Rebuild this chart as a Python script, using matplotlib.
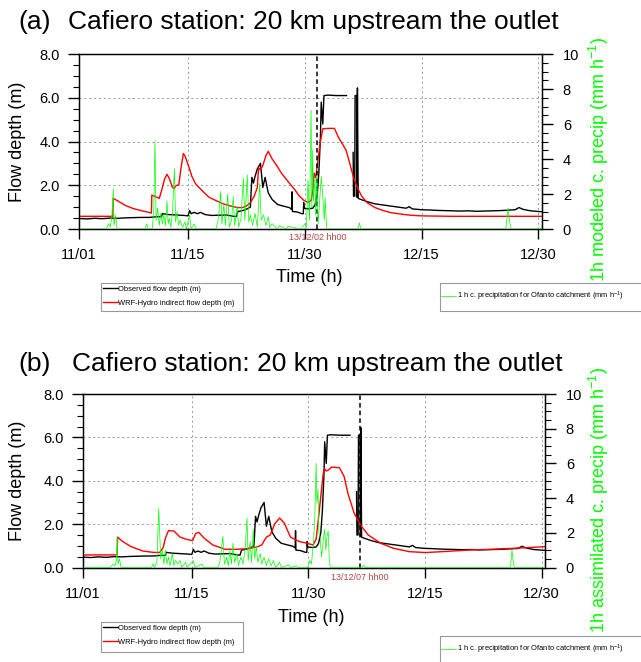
import numpy as np
import matplotlib
matplotlib.use("Agg")
import matplotlib.pyplot as plt
from matplotlib.ticker import MultipleLocator
from matplotlib.patches import Rectangle

plt.rcParams['font.family'] = ['Liberation Sans', 'DejaVu Sans']
plt.rcParams['mathtext.fontset'] = 'custom'
plt.rcParams['mathtext.rm'] = 'Liberation Sans'
plt.rcParams['mathtext.it'] = 'Liberation Sans'

# days since 11/01 (as positioned on the axis)
tick_days = [0, 14, 29, 44, 59]
tick_labels = ['11/01', '11/15', '11/30', '12/15', '12/30']

# observed flow depth (m), same in both panels; nan = missing data
obs_day = [0.0, 1.0, 2.0, 3.0, 4.0, 5.0, 6.0, 7.0, 8.0, 9.0, 10.0, 10.6, 10.7, 11.5, 12.5,
           13.5, 14.0, 14.2, 14.4, 14.8, 15.2, 15.6, 16.2, 17.0, 18.0, 19.0, 19.8, 20.2,
           20.4, 21.0, 21.6, 22.0, 22.2, 22.4, 22.6, 22.9, 23.3, 23.6, 23.9, 24.3, 24.8,
           25.5, 26.2, 27.0, 27.3, 27.35, 27.4, 28.0, 28.6, 28.8, 28.85, 28.9, 29.5, 30.0,
           30.3, 30.6, 30.8, 31.0, 31.1, 31.3, 31.45, 32.0, 33.0, 34.35, 34.4, 35.2, 35.25,
           35.4, 35.45, 35.65, 35.7, 35.75, 35.85, 36.2, 37.0, 38.0, 39.0, 40.0, 41.0, 42.0,
           42.4, 42.8, 44.0, 45.0, 46.0, 47.0, 48.0, 49.0, 50.0, 51.0, 52.0, 53.0, 54.0,
           55.0, 56.0, 56.5, 57.0, 58.0, 59.0, 59.5]
obs_depth = [0.48, 0.46, 0.49, 0.47, 0.50, 0.49, 0.51, 0.52, 0.53, 0.53, 0.56, 0.56, 0.70,
             0.66, 0.64, 0.62, 0.60, 0.84, 0.70, 0.76, 0.70, 0.76, 0.66, 0.62, 0.63, 0.64,
             0.58, 0.57, 0.80, 0.84, 0.92, 1.00, 2.36, 2.10, 2.40, 2.75, 3.00, 1.90, 2.36,
             1.65, 1.35, 1.12, 1.05, 0.98, 0.90, 1.70, 0.80, 0.78, 0.70, 0.70, 1.20, 0.95,
             0.92, 0.95, 1.10, 1.60, 2.60, 4.20, 5.80, 4.80, 6.10, 6.12, 6.10, 6.10, np.nan,
             3.50, 1.50, 1.50, 6.10, 6.10, 1.45, 6.45, 1.40, 1.35, 1.25, 1.15, 1.10, 1.05,
             1.00, 0.95, 1.02, 0.92, 0.88, 0.87, 0.85, 0.84, 0.83, 0.82, 0.83, 0.81, 0.82,
             0.83, 0.84, 0.86, 0.88, 0.98, 0.90, 0.83, 0.80, 0.79]

# WRF-Hydro indirect flow depth (m), panel (a)
mod_a_day = [0.0, 4.35, 4.4, 5.0, 6.0, 7.0, 8.0, 9.3, 9.35, 10.0, 10.3, 10.6, 11.0, 11.3, 11.6,
             12.0, 12.2, 12.5, 12.8, 13.1, 13.4, 13.6, 14.0, 14.5, 15.0, 15.9, 16.7, 17.7,
             18.5, 19.5, 20.3, 21.0, 21.5, 22.0, 22.5, 22.9, 23.05, 23.3, 23.6, 24.0, 24.3,
             24.8, 25.3, 26.0, 27.0, 27.7, 28.3, 28.9, 29.4, 29.8, 30.0, 30.2, 30.4, 30.7,
             31.0, 31.3, 32.0, 32.8, 33.3, 33.8, 34.3, 34.8, 35.3, 35.8, 36.3, 37.0, 38.0,
             39.0, 40.0, 41.0, 42.0, 43.0, 44.0, 46.0, 48.0, 59.5]
mod_a_depth = [0.58, 0.58, 1.40, 1.28, 1.07, 0.93, 0.84, 0.73, 1.55, 1.45, 1.40, 1.75, 2.30,
               2.50, 2.30, 1.90, 1.85, 2.00, 2.00, 2.80, 3.45, 3.35, 2.95, 2.40, 2.05, 1.72,
               1.45, 1.28, 1.15, 1.05, 0.98, 0.98, 1.05, 1.20, 1.50, 1.90, 2.80, 2.70, 2.90,
               3.35, 3.55, 3.20, 2.95, 2.55, 2.10, 1.80, 1.50, 1.30, 1.22, 1.30, 1.70, 2.55,
               2.35, 3.20, 4.00, 4.58, 4.60, 4.60, 4.20, 3.90, 3.60, 2.95, 2.30, 1.85, 1.50,
               1.20, 0.98, 0.85, 0.75, 0.70, 0.65, 0.62, 0.60, 0.59, 0.58, 0.58]

# WRF-Hydro indirect flow depth (m), panel (b)
mod_b_day = [0.0, 4.4, 4.45, 5.1, 6.2, 7.7, 9.0, 9.85, 10.3, 10.6, 11.0, 11.7, 12.5, 13.3,
             14.1, 14.5, 14.9, 15.6, 16.7, 18.3, 19.9, 21.4, 22.4, 23.0, 23.6, 24.1, 24.7,
             25.3, 25.9, 26.7, 27.8, 28.8, 29.6, 30.0, 30.4, 30.9, 31.1, 31.3, 31.6, 32.0,
             33.0, 33.6, 34.1, 34.9, 35.7, 36.7, 38.3, 39.9, 42.0, 44.1, 46.2, 49.9, 52.5,
             55.7, 59.5]
mod_b_depth = [0.58, 0.58, 1.40, 1.20, 0.96, 0.76, 0.70, 0.69, 0.90, 1.35, 1.70, 1.68, 1.40,
               1.30, 1.24, 1.57, 1.62, 1.35, 1.04, 0.84, 0.84, 0.88, 0.95, 1.04, 1.40, 1.50,
               2.03, 2.28, 2.05, 1.40, 1.20, 1.12, 1.04, 1.30, 2.60, 4.30, 4.55, 4.45, 4.50,
               4.63, 4.60, 4.20, 3.40, 2.50, 1.96, 1.50, 1.12, 0.89, 0.73, 0.69, 0.73, 0.81,
               0.84, 0.89, 0.96]

# 1h catchment precipitation (mm h-1), panel (a): modeled
pr_a_day = [0.0, 3.5, 3.8, 4.0, 4.2, 4.4, 4.5, 4.7, 4.9, 8.5, 8.7, 8.9, 9.4, 9.6, 9.75, 9.9,
            10.1, 10.3, 10.5, 10.7, 10.9, 11.1, 11.3, 11.45, 11.6, 11.8, 12.0, 12.25, 12.4,
            12.6, 12.8, 13.0, 13.3, 13.6, 13.8, 14.2, 14.4, 14.8, 15.0, 17.6, 17.9, 18.2,
            18.35, 18.6, 18.8, 19.1, 19.3, 19.6, 19.8, 20.0, 20.3, 20.5, 20.8, 21.1, 21.3,
            21.6, 21.8, 22.0, 22.3, 22.6, 22.9, 23.2, 23.4, 23.7, 24.0, 24.3, 24.5, 24.8,
            25.5, 25.7, 26.6, 26.8, 28.5, 29.0, 29.2, 29.4, 29.6, 29.8, 29.9, 30.0, 30.1,
            30.3, 30.4, 30.55, 30.7, 30.9, 31.1, 31.3, 31.5, 31.6, 31.8, 35.8, 36.0, 36.2,
            54.8, 55.1, 55.3, 55.5, 59.3, 59.5]
pr_a_val = [0.0, 0.0, 0.3, 0.1, 0.6, 2.3, 0.2, 0.8, 0.0, 0.0, 0.3, 0.0, 0.0, 1.0, 5.05, 0.5,
            1.2, 0.2, 0.9, 0.3, 0.8, 0.2, 1.6, 0.3, 0.6, 0.1, 0.9, 3.45, 0.4, 1.0, 0.2, 0.5,
            0.1, 0.4, 0.0, 0.8, 0.0, 0.3, 0.0, 0.0, 0.6, 2.15, 0.3, 1.4, 0.2, 2.0, 0.1, 0.5,
            1.85, 0.2, 1.3, 0.1, 0.6, 2.9, 0.5, 3.1, 0.4, 0.8, 0.2, 0.9, 0.1, 2.6, 0.5, 0.8,
            0.2, 0.7, 0.1, 0.3, 0.0, 0.2, 0.0, 0.15, 0.0, 0.3, 0.1, 2.8, 0.5, 6.8, 1.2, 4.5,
            1.6, 2.9, 0.8, 3.0, 0.3, 1.6, 3.0, 1.9, 0.5, 1.8, 0.0, 0.0, 0.35, 0.0, 0.0, 1.2,
            0.4, 0.0, 0.0, 0.3]

# 1h catchment precipitation (mm h-1), panel (b): assimilated
pr_b_day = [0.0, 3.5, 3.9, 4.1, 4.3, 4.4, 4.5, 4.7, 4.9, 8.8, 9.0, 9.2, 9.5, 9.75, 9.85,
            10.0, 10.2, 10.4, 10.6, 10.8, 11.0, 11.2, 11.5, 11.7, 11.9, 12.2, 12.5, 12.7,
            13.2, 13.4, 14.2, 14.4, 15.3, 15.5, 17.4, 17.6, 18.0, 18.2, 18.5, 18.7, 18.9,
            19.1, 19.3, 19.5, 19.8, 20.0, 20.3, 20.6, 20.9, 21.1, 21.25, 21.5, 21.7, 21.9,
            22.1, 22.3, 22.5, 22.8, 23.0, 23.3, 23.6, 23.9, 24.2, 24.5, 24.8, 25.3, 25.5,
            26.5, 26.7, 27.5, 27.7, 28.9, 29.2, 29.4, 29.6, 29.8, 30.0, 30.1, 30.25, 30.35,
            30.5, 30.7, 30.9, 31.1, 31.25, 31.4, 31.55, 31.7, 31.85, 35.9, 36.1, 36.3, 55.0,
            55.2, 55.4, 55.5, 59.5]
pr_b_val = [0.0, 0.0, 0.2, 0.1, 0.4, 1.8, 0.2, 0.5, 0.0, 0.0, 0.2, 0.0, 0.3, 3.4, 2.2, 0.5,
            1.0, 0.2, 1.0, 0.2, 0.6, 0.1, 0.8, 0.1, 0.4, 0.2, 0.4, 0.0, 0.3, 0.0, 0.4, 0.0,
            0.2, 0.0, 0.0, 0.3, 1.8, 0.2, 0.6, 0.1, 1.0, 0.2, 1.4, 0.3, 0.8, 0.1, 0.6, 0.2,
            1.2, 2.85, 0.4, 1.5, 0.3, 2.2, 0.5, 1.2, 0.3, 0.8, 0.2, 0.6, 0.1, 0.5, 0.1, 0.4,
            0.0, 0.3, 0.0, 0.15, 0.0, 0.1, 0.0, 0.0, 0.4, 0.2, 1.2, 2.5, 6.0, 3.7, 4.5, 2.0,
            1.8, 0.6, 1.5, 2.2, 1.0, 1.8, 2.1, 0.3, 0.0, 0.0, 0.15, 0.0, 0.0, 1.0, 0.2, 0.0,
            0.0]

panels = [
    dict(tag='(a)', mod_day=mod_a_day, mod=mod_a_depth, pr_day=pr_a_day, pr=pr_a_val,
         vline=30.6, vlabel='13/12/02 hh00',
         rlabel='1h modeled c. precip (mm h$^{-1}$)'),
    dict(tag='(b)', mod_day=mod_b_day, mod=mod_b_depth, pr_day=pr_b_day, pr=pr_b_val,
         vline=35.6, vlabel='13/12/07 hh00',
         rlabel='1h assimilated c. precip (mm h$^{-1}$)'),
]

W, H = 641, 662
fig = plt.figure(figsize=(W / 100, H / 100), dpi=100)


def fx(px):
    return px / W


def fy(py):
    return 1 - py / H


# pixel layout: (left, top, right, bottom), title baseline, label spots
layout = [
    dict(box=(79, 54, 542, 229), title_y=28.5, time=(309, 278), rlab=(599, 159),
         vlab_y=237, leg1=(101, 283, 243, 311), leg2=(439.5, 282.5, 296)),
    dict(box=(83, 394, 545, 567.5), title_y=371.5, time=(311.5, 617), rlab=(599, 500),
         vlab_y=577.5, leg1=(101, 622, 243, 651.5), leg2=(439.5, 635.5, 649.5)),
]

red_txt = '#b04545'
green = '#00ff00'
leg_fs = 5.4

for p, L in zip(panels, layout):
    l, t, r, b = L['box']
    ax = fig.add_axes([fx(l), fy(b), fx(r - l), (b - t) / H])
    ax.set_xlim(0, 59.45)
    ax.set_ylim(0, 8)

    ax.grid(True, color='#999999', lw=0.7, ls=(0, (2, 3)))
    l_obs, = ax.plot(obs_day, obs_depth, color='black', lw=1.0, zorder=3)
    l_mod, = ax.plot(p['mod_day'], p['mod'], color='red', lw=1.0, zorder=3)
    ax.axvline(p['vline'], color='black', lw=1.1, ls=(0, (3, 2)), zorder=4)

    ax.set_xticks(tick_days)
    ax.set_xticklabels(tick_labels)
    ax.set_yticks([0, 2, 4, 6, 8])
    ax.set_yticklabels(['0.0', '2.0', '4.0', '6.0', '8.0'])
    ax.yaxis.set_minor_locator(MultipleLocator(0.5))
    ax.tick_params(axis='x', direction='out', length=7, width=1, labelsize=10.5, pad=7)
    ax.tick_params(axis='y', which='major', direction='out', length=8, width=1,
                   labelsize=10.5, pad=6)
    ax.tick_params(axis='y', which='minor', direction='out', length=4, width=0.8)
    for s in ax.spines.values():
        s.set_linewidth(1.0)

    ax2 = ax.twinx()
    ax2.set_ylim(0, 10)
    ax2.set_xlim(0, 59.45)
    l_pr, = ax2.plot(p['pr_day'], p['pr'], color=green, lw=0.5)
    ax2.set_yticks([0, 2, 4, 6, 8, 10])
    ax2.yaxis.set_minor_locator(MultipleLocator(0.5))
    ax2.tick_params(axis='y', which='major', direction='out', length=8, width=1,
                    labelsize=10.5, pad=7)
    ax2.tick_params(axis='y', which='minor', direction='out', length=4, width=0.8)

    # titles and axis labels
    fig.text(fx(18), fy(L['title_y']), p['tag'], fontsize=19, va='baseline')
    fig.text(fx(l - 11.5), fy(L['title_y']), 'Cafiero station: 20 km upstream the outlet',
             fontsize=19, va='baseline')
    fig.text(fx(18), fy((t + b) / 2), 'Flow depth (m)', rotation=90, fontsize=13,
             ha='center', va='center')
    fig.text(fx(L['time'][0]), fy(L['time'][1]), 'Time (h)', fontsize=13,
             ha='center', va='center')
    fig.text(fx(L['rlab'][0]), fy(L['rlab'][1]), p['rlabel'], rotation=90, fontsize=13,
             color=green, ha='center', va='center')
    vx = l + (r - l) * p['vline'] / 59.45
    fig.text(fx(vx), fy(L['vlab_y']), p['vlabel'], fontsize=6.5, color=red_txt,
             ha='center', va='center')

    # legend 1
    x0, y0, x1, y1 = L['leg1']
    fig.add_artist(Rectangle((fx(x0), fy(y1)), fx(x1 - x0), (y1 - y0) / H,
                             transform=fig.transFigure, fill=False, ec='#999999', lw=0.8))
    fig.legend([l_obs, l_mod], ['Observed flow depth (m)', 'WRF-Hydro indirect flow depth (m)'],
               loc='upper left', bbox_to_anchor=(fx(x0 - 0.5), fy(y0 + 0.5)), frameon=False,
               fontsize=leg_fs, handlelength=2.0, handletextpad=0.05, labelspacing=0.85,
               borderpad=0.3, borderaxespad=0)

    # legend 2 (frame runs off the right edge)
    x0, y0, ym = L['leg2']
    fig.add_artist(Rectangle((fx(x0), fy(y0 + 28.5)), 0.5, 28.5 / H,
                             transform=fig.transFigure, fill=False, ec='#999999', lw=0.8))
    fig.legend([l_pr], ['1 h c. precipitation for Ofanto catchment (mm h$^{-1}$)'],
               loc='center left', bbox_to_anchor=(fx(x0 - 0.5), fy(ym)), frameon=False,
               fontsize=leg_fs, handlelength=2.0, handletextpad=0.05, borderpad=0.3,
               borderaxespad=0)

fig.savefig('out.png', dpi=100)
